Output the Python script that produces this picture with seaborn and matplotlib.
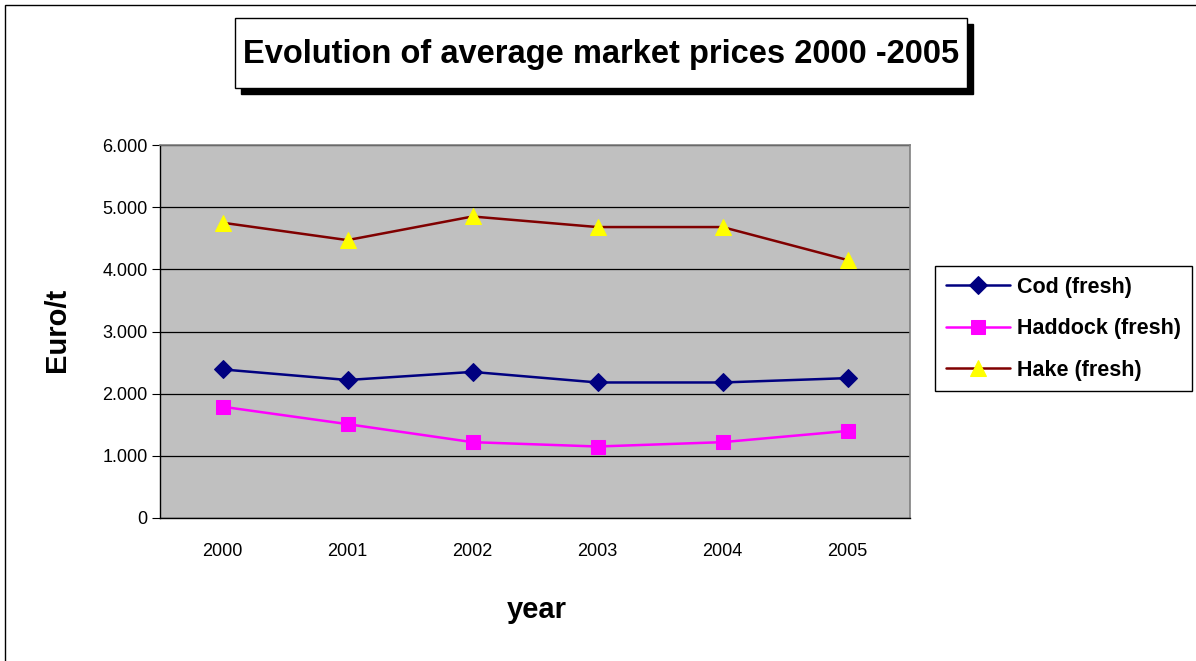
import matplotlib
matplotlib.use("Agg")
import matplotlib.pyplot as plt
from matplotlib.patches import Rectangle
from matplotlib.ticker import FixedLocator, FuncFormatter
import pandas as pd
import seaborn as sns

# data (Euro per tonne)
years = [2000, 2001, 2002, 2003, 2004, 2005]
cod = [2390, 2220, 2350, 2180, 2180, 2250]
haddock = [1790, 1510, 1220, 1150, 1220, 1400]
hake = [4750, 4470, 4850, 4680, 4680, 4150]

series_names = ["Cod (fresh)", "Haddock (fresh)", "Hake (fresh)"]
line_colors = ["#000080", "#FF00FF", "#800000"]
marker_colors = ["#000080", "#FF00FF", "#FFFF00"]
marker_shapes = ["D", "s", "^"]
marker_sizes = [9, 10, 12]

df = pd.DataFrame({"year": years, series_names[0]: cod,
                   series_names[1]: haddock, series_names[2]: hake})
long_df = df.melt(id_vars="year", var_name="series", value_name="price")

sns.set_style("white")
plt.rcParams["font.family"] = ["Liberation Sans", "DejaVu Sans"]
plt.rcParams["text.color"] = "black"
plt.rcParams["xtick.color"] = "black"
plt.rcParams["ytick.color"] = "black"

W, H = 1196, 661
fig = plt.figure(figsize=(W / 100, H / 100), dpi=100)
ax = fig.add_axes([160 / W, 1 - 518 / H, 750 / W, 373 / H])
ax.set_facecolor("#C0C0C0")

for name, lc, mc, mk, ms in zip(series_names, line_colors, marker_colors,
                                marker_shapes, marker_sizes):
    sub = long_df[long_df["series"] == name]
    sns.lineplot(data=sub, x="year", y="price", ax=ax, color=lc, lw=1.8,
                 marker=mk, markersize=ms,
                 markerfacecolor=mc, markeredgecolor=mc, label=name)

# axes styling in the old spreadsheet look
ax.set_xlim(years[0] - 0.5, years[-1] + 0.5)
ax.set_ylim(0, 6000)
ax.set_yticks(range(0, 6001, 1000))
ax.yaxis.set_major_formatter(FuncFormatter(lambda v, p: f"{int(v):,}".replace(",", ".")))
ax.grid(axis="y", color="black", lw=0.9)
ax.set_axisbelow(True)
ax.set_xticks(years)
ax.set_xticklabels([str(y) for y in years])
ax.xaxis.set_minor_locator(FixedLocator([y + 0.5 for y in [years[0] - 1] + years]))
ax.tick_params(axis="x", which="major", length=0, pad=18, labelsize=13)
ax.tick_params(axis="x", which="minor", length=6, direction="out", color="black")
ax.tick_params(axis="y", length=6, direction="out", color="black", labelsize=13, pad=3, left=True)
for side in ["top", "right"]:
    ax.spines[side].set_color("#808080")
    ax.spines[side].set_linewidth(1.2)
for side in ["left", "bottom"]:
    ax.spines[side].set_color("black")
    ax.spines[side].set_linewidth(1.0)

ax.set_xlabel("")
ax.set_ylabel("")
fig.text(57 / W, 1 - 330 / H, "Euro/t", rotation=90, ha="center", va="center",
         fontsize=21, fontweight="bold")
fig.text(537 / W, 1 - 610 / H, "year", ha="center", va="center",
         fontsize=21, fontweight="bold")

# legend box on the right
handles, labels = ax.get_legend_handles_labels()
ax.legend_.remove()
leg = fig.legend(handles, labels, loc="upper left",
                 bbox_to_anchor=(935 / W, 1 - 266 / H), fancybox=False,
                 edgecolor="black", framealpha=1,
                 prop={"weight": "bold", "size": 15.5}, handlelength=3.0,
                 handletextpad=0.3, borderpad=0.5, labelspacing=0.95,
                 borderaxespad=0)
leg.get_frame().set_linewidth(1.0)

# title box with drop shadow
fig.add_artist(Rectangle((241 / W, 1 - 94 / H), 732 / W, 70 / H,
                         transform=fig.transFigure, facecolor="black",
                         edgecolor="black", zorder=5))
fig.add_artist(Rectangle((235 / W, 1 - 88 / H), 732 / W, 70 / H,
                         transform=fig.transFigure, facecolor="white",
                         edgecolor="black", lw=1.0, zorder=6))
fig.text(601 / W, 1 - 54 / H, "Evolution of average market prices 2000 -2005",
         ha="center", va="center", fontsize=23.5, fontweight="bold", zorder=7)

# outer chart border
fig.add_artist(Rectangle((5 / W, -0.01), 1.02, 1 - 5 / H + 0.01,
                         transform=fig.transFigure, facecolor="none",
                         edgecolor="black", lw=1.0))

fig.savefig("out.png", dpi=100)
